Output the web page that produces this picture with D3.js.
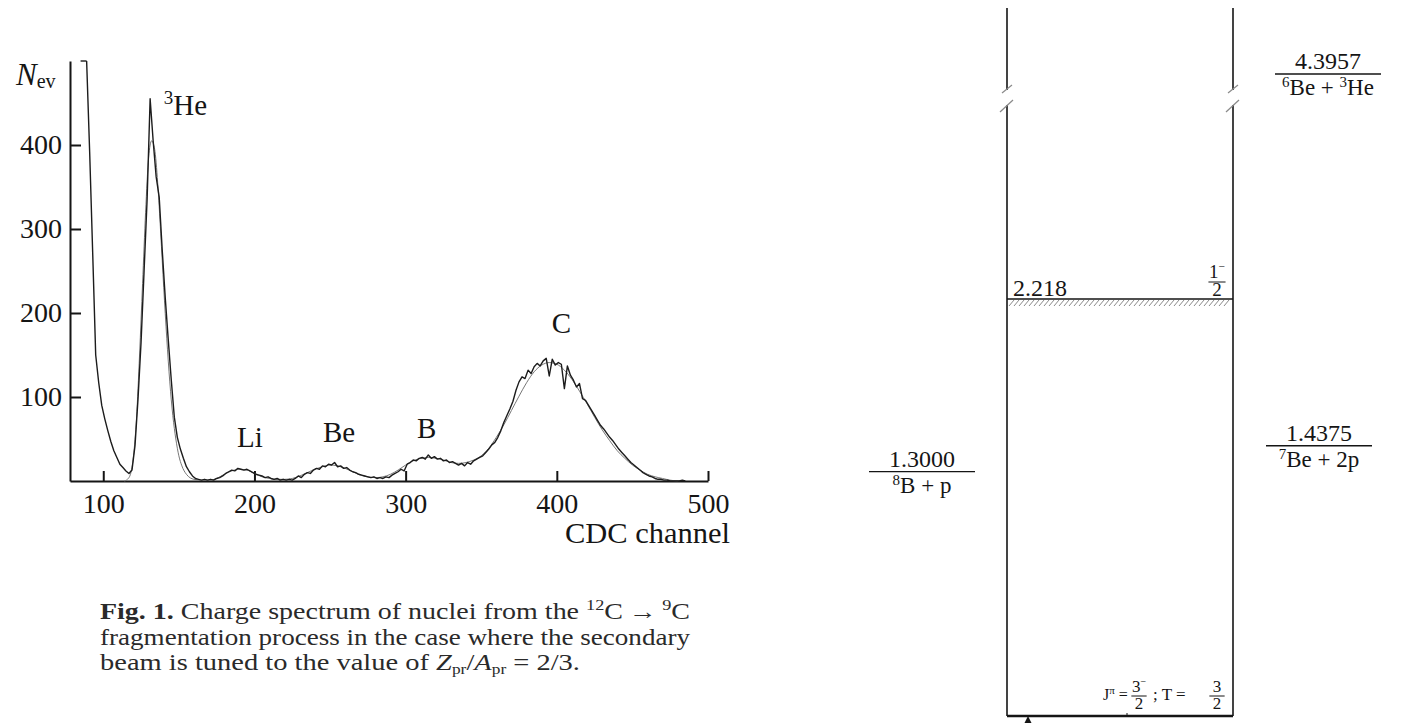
<!DOCTYPE html>
<html>
<head>
<meta charset="utf-8">
<script src="https://cdn.jsdelivr.net/npm/d3@7"></script>
<style>
  body { margin: 0; background: #fff; }
  svg { display: block; }
  svg text { font-family: "Liberation Serif", Tinos, "Times New Roman", Times, "Nimbus Roman", "DejaVu Serif", serif !important; }
</style>
</head>
<body>
<svg id="fig" width="1408" height="723"></svg>
<script>
// ---- Charge spectrum (Fig. 1) ----
// Histogram counts in 2-channel bins, first bin starts at channel 86
const firstChannel = 86;
const binWidth = 2;
const counts = [
  520, 520, 392, 272, 150, 117, 90, 74, 60, 47,
  36, 28, 20, 16, 12, 9, 13, 42, 98, 165,
  250, 335, 455, 405, 362, 338, 275, 218, 168, 120,
  76, 52, 38, 27, 17, 11, 6, 3, 2, 1,
  2, 1, 2, 1, 3, 4, 6, 9, 11, 13,
  12, 15, 14, 13, 14, 12, 10, 8, 7, 6,
  4, 5, 3, 2, 3, 1, 2, 1, 2, 1,
  3, 6, 4, 8, 10, 9, 13, 15, 14, 18,
  17, 20, 19, 22, 17, 18, 15, 16, 13, 11,
  10, 8, 7, 6, 5, 4, 5, 3, 4, 3,
  5, 4, 7, 9, 11, 14, 12, 20, 22, 25,
  24, 27, 28, 26, 31, 27, 29, 26, 27, 24,
  25, 22, 23, 21, 19, 21, 18, 22, 20, 24,
  26, 28, 30, 34, 38, 43, 46, 52, 60, 70,
  78, 86, 95, 108, 118, 124, 122, 132, 128, 136,
  140, 137, 143, 146, 125, 145, 138, 141, 139, 110,
  137, 126, 120, 112, 116, 98, 96, 90, 84, 78,
  72, 66, 62, 57, 52, 48, 43, 38, 34, 30,
  26, 22, 19, 16, 13, 10, 8, 6, 5, 3,
  2, 2, 1, 1, 0, 0, 0, 0, 1, 0
];

// Smooth fitted curve (channel, counts)
const fitChannels = [
  114, 116, 118, 120, 122, 124, 126, 128, 130, 132,
  134, 136, 138, 140, 142, 144, 146, 148, 150, 152,
  155, 160, 165, 170, 175, 180, 185, 190, 195, 200,
  205, 210, 215, 220, 225, 230, 235, 240, 245, 250,
  255, 260, 265, 270, 275, 280, 285, 290, 295, 300,
  305, 310, 315, 320, 325, 330, 335, 340, 345, 350,
  355, 360, 365, 370, 375, 380, 385, 390, 395, 400,
  405, 410, 415, 420, 425, 430, 435, 440, 445, 450,
  455, 460, 465, 470, 475, 480
];
const fitCounts = [
  0, 2, 8, 30, 75, 150, 235, 320, 385, 405,
  395, 355, 295, 230, 170, 118, 78, 50, 30, 18,
  8, 2, 1, 1, 3, 8, 12, 14, 13, 9,
  5, 3, 2, 2, 3, 6, 10, 14, 17, 19,
  18, 15, 11, 7, 5, 4, 5, 8, 13, 19,
  24, 27, 28, 27, 25, 22, 21, 22, 25, 30,
  39, 52, 67, 84, 101, 117, 130, 138, 141, 139,
  132, 121, 107, 92, 76, 61, 48, 36, 27, 19,
  13, 8, 5, 3, 1, 0
];

const xTickValues = [100, 200, 300, 400, 500];
const yTickValues = [100, 200, 300, 400];

// Peak annotations, anchored in (channel, counts)
const labelNames = ["Li", "Be", "B", "C"];
const labelChannels = [197, 256, 314, 403];
const labelCounts = [40, 46, 51, 176];

// ---- Level scheme of 9C ----
const boxLevel = 2.218;
const thresholdValues = [1.3000, 1.4375, 4.3957];
const thresholdText = ["1.3000", "1.4375", "4.3957"];
const thresholdChannels = [
  [["8", true], ["B + p", false]],
  [["7", true], ["Be + 2p", false]],
  [["6", true], ["Be + ", false], ["3", true], ["He", false]]
];
const thresholdSide = ["left", "right", "right"];

const svg = d3.select("#fig");
const ink = "#151515";

// ================= Left panel: spectrum =================
const x = d3.scaleLinear().domain([78, 500]).range([70, 708]);
const y = d3.scaleLinear().domain([0, 500]).range([481, 61]).clamp(true);

const gx = svg.append("g").attr("transform", "translate(0,481)")
  .call(d3.axisBottom(x).tickValues(xTickValues).tickSizeInner(-10).tickSizeOuter(0).tickPadding(12));
const gy = svg.append("g").attr("transform", "translate(70,0)")
  .call(d3.axisLeft(y).tickValues(yTickValues).tickSizeInner(-11).tickSizeOuter(0).tickPadding(8));

[gx, gy].forEach(g => {
  g.attr("font-family", null);
  g.select(".domain").attr("stroke", ink).attr("stroke-width", 2);
  g.selectAll(".tick line").attr("stroke", ink).attr("stroke-width", 2);
  g.selectAll(".tick text").attr("fill", ink).style("font-size", "28px");
});

// Fitted curve (thin grey)
const fitPts = fitChannels.map((c, i) => [c, fitCounts[i]]);
svg.append("path")
  .attr("d", d3.line().x(d => x(d[0])).y(d => y(d[1])).curve(d3.curveMonotoneX)(fitPts))
  .attr("fill", "none").attr("stroke", "#777").attr("stroke-width", 1);

// Histogram: clipped overflow bins at the top, then counts through bin centres
const histPts = counts.map((v, i) => [firstChannel + i * binWidth + binWidth / 2, v]);
histPts.unshift([firstChannel - 1, counts[0]]);
svg.append("path")
  .attr("d", d3.line().x(d => x(d[0])).y(d => y(d[1])).curve(d3.curveStepAfter)(histPts.slice(0, 3)))
  .attr("fill", "none").attr("stroke", "#1c1c1c").attr("stroke-width", 1.4);
svg.append("path")
  .attr("d", d3.line().x(d => x(d[0])).y(d => y(d[1]))(histPts.slice(2)))
  .attr("fill", "none").attr("stroke", "#1c1c1c").attr("stroke-width", 1.4)
  .attr("stroke-linejoin", "round");

// Axis titles
const nev = svg.append("text").attr("x", 16).attr("y", 85).attr("fill", ink);
nev.append("tspan").text("N").style("font-style", "italic").style("font-size", "31px");
nev.append("tspan").text("ev").style("font-size", "20px").attr("dy", 3);

svg.append("text").attr("x", 730).attr("y", 543).attr("text-anchor", "end")
  .attr("textLength", 165).attr("lengthAdjust", "spacingAndGlyphs")
  .attr("fill", ink).style("font-size", "29px").text("CDC channel");

// Peak labels
labelNames.forEach((name, i) => {
  svg.append("text").attr("x", x(labelChannels[i])).attr("y", y(labelCounts[i]))
    .attr("text-anchor", "middle").attr("fill", ink).style("font-size", "29px").text(name);
});
const he = svg.append("text").attr("x", x(140)).attr("y", y(436)).attr("fill", ink);
he.append("tspan").text("3").style("font-size", "19px").attr("dy", -11);
he.append("tspan").text("He").style("font-size", "29px").attr("dy", 11);

// Caption
const cap = svg.append("g").attr("fill", "#2a2a2a").style("font-size", "23px");
const l1 = cap.append("text").attr("x", 100).attr("y", 619)
  .attr("textLength", 590).attr("lengthAdjust", "spacingAndGlyphs");
l1.append("tspan").text("Fig. 1.").style("font-weight", "bold");
l1.append("tspan").text(" Charge spectrum of nuclei from the ");
l1.append("tspan").text("12").style("font-size", "15px").attr("dy", -9);
l1.append("tspan").text("C\u2009\u2192\u2009").attr("dy", 9);
l1.append("tspan").text("9").style("font-size", "15px").attr("dy", -9);
l1.append("tspan").text("C").attr("dy", 9);

cap.append("text").attr("x", 100).attr("y", 645)
  .attr("textLength", 590).attr("lengthAdjust", "spacingAndGlyphs")
  .text("fragmentation process in the case where the secondary");

const l3 = cap.append("text").attr("x", 100).attr("y", 670)
  .attr("textLength", 480).attr("lengthAdjust", "spacingAndGlyphs");
l3.append("tspan").text("beam is tuned to the value of ");
l3.append("tspan").text("Z").style("font-style", "italic");
l3.append("tspan").text("pr").style("font-size", "14px").attr("dy", 4);
l3.append("tspan").text("/").attr("dy", -4);
l3.append("tspan").text("A").style("font-style", "italic");
l3.append("tspan").text("pr").style("font-size", "14px").attr("dy", 4);
l3.append("tspan").text(" = 2/3.").attr("dy", -4);

// ================= Right panel: level scheme =================
const boxLeft = 1007, boxRight = 1233;
const e = d3.scaleLinear().domain([0, boxLevel]).range([716, 299]);
const eUpper = d3.scaleLinear().domain([4.0, 4.5]).range([148.4, 54.4]);
const breakTop = 90, breakBottom = 105;
const levelY = v => (v > 3 ? eUpper(v) : e(v));

const rp = svg.append("g").attr("stroke", ink);
[boxLeft, boxRight].forEach(bx => {
  rp.append("line").attr("x1", bx).attr("x2", bx).attr("y1", 8).attr("y2", breakTop).attr("stroke-width", 1.6);
  rp.append("line").attr("x1", bx).attr("x2", bx).attr("y1", breakBottom).attr("y2", e(0)).attr("stroke-width", 1.6);
  rp.append("line").attr("x1", bx - 5).attr("y1", breakTop + 3).attr("x2", bx + 5).attr("y2", breakTop - 5)
    .attr("stroke", "#8a8a8a").attr("stroke-width", 1.2);
  rp.append("line").attr("x1", bx - 7).attr("y1", breakBottom + 7).attr("x2", bx + 6).attr("y2", breakBottom - 5)
    .attr("stroke", "#8a8a8a").attr("stroke-width", 1.2);
});
// ground state
rp.append("line").attr("x1", boxLeft).attr("x2", boxRight).attr("y1", e(0)).attr("y2", e(0)).attr("stroke-width", 2.6);
rp.append("line").attr("x1", 1127).attr("x2", 1127).attr("y1", e(0) - 3).attr("y2", e(0)).attr("stroke-width", 1);
svg.append("path").attr("d", `M1024.5,723 L1028,716 L1031.5,723 Z`).attr("fill", ink);

// 2.218 resonance with hatching
const yr = e(boxLevel);
rp.append("line").attr("x1", boxLeft).attr("x2", boxRight).attr("y1", yr).attr("y2", yr).attr("stroke-width", 1.3);
d3.range(boxLeft + 2, boxRight - 4, 5).forEach(hx => {
  rp.append("line").attr("x1", hx).attr("y1", yr + 7).attr("x2", hx + 5).attr("y2", yr + 1)
    .attr("stroke", "#8a8a8a").attr("stroke-width", 1);
});
svg.append("text").attr("x", 1013).attr("y", yr - 3).attr("fill", ink).style("font-size", "24px").text("2.218");

// fraction helper: numerator (with optional superscript) over denominator
function fraction(cx, yBar, num, sup, den, size) {
  const g = svg.append("g").attr("fill", ink);
  const t = g.append("text").attr("x", cx).attr("y", yBar - 4).attr("text-anchor", "middle").style("font-size", size + "px");
  t.append("tspan").text(num);
  if (sup) t.append("tspan").text(sup).style("font-size", (size * 0.6) + "px").attr("dy", -size * 0.4);
  g.append("text").attr("x", cx).attr("y", yBar + size * 0.74).attr("text-anchor", "middle")
    .style("font-size", size + "px").text(den);
  g.append("line").attr("x1", cx - size * 0.45).attr("x2", cx + size * 0.45)
    .attr("y1", yBar).attr("y2", yBar).attr("stroke", ink).attr("stroke-width", 1);
}
fraction(1217, yr - 17, "1", "\u2212", "2", 19);

// ground state quantum numbers
const qn = svg.append("text").attr("x", 1103).attr("y", 700).attr("fill", ink).style("font-size", "16px");
qn.append("tspan").text("J");
qn.append("tspan").text("\u03c0").style("font-size", "11px").attr("dy", -6);
qn.append("tspan").text(" =").attr("dy", 6);
fraction(1139, 696, "3", "\u2212", "2", 17);
svg.append("text").attr("x", 1153).attr("y", 700).attr("fill", ink).style("font-size", "17px").text("; T =");
fraction(1217, 696, "3", null, "2", 17);

// decay thresholds
thresholdValues.forEach((v, i) => {
  const cx = thresholdSide[i] === "left" ? 922 : (v > 3 ? 1328 : 1319);
  const ly = levelY(v);
  svg.append("line").attr("x1", cx - 53).attr("x2", cx + 53).attr("y1", ly).attr("y2", ly)
    .attr("stroke", ink).attr("stroke-width", 1.3);
  svg.append("text").attr("x", cx).attr("y", ly - 5).attr("text-anchor", "middle")
    .attr("fill", ink).style("font-size", "24px").text(thresholdText[i]);
  const t = svg.append("text").attr("x", cx).attr("y", ly + 21).attr("text-anchor", "middle")
    .attr("fill", ink).style("font-size", "23px");
  let shifted = false;
  thresholdChannels[i].forEach(([s, isSup]) => {
    const ts = t.append("tspan").text(s);
    if (isSup) { ts.style("font-size", "15px").attr("dy", shifted ? 0 : -8); shifted = true; }
    else { ts.attr("dy", shifted ? 8 : 0); shifted = false; }
  });
});
</script>
</body>
</html>
